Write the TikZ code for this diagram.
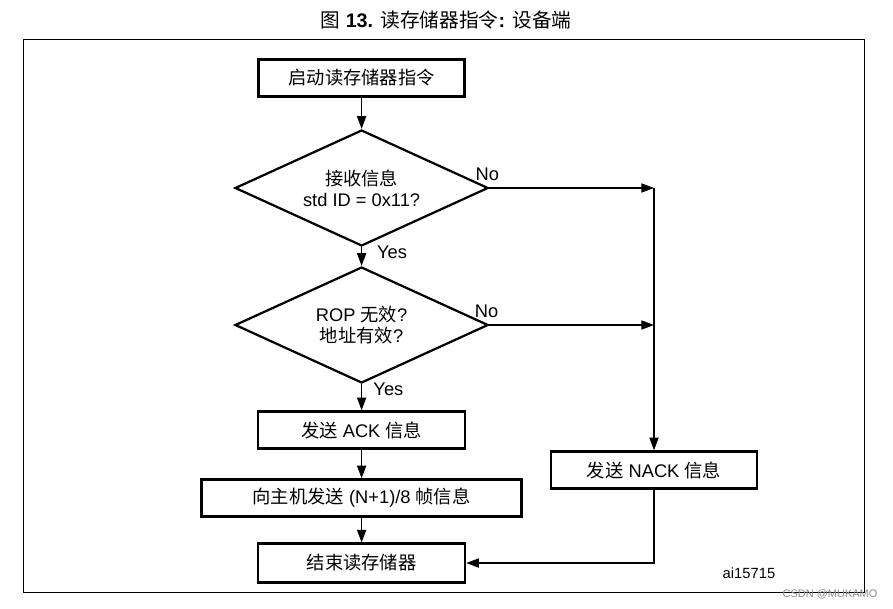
\documentclass[tikz,border=0pt]{standalone}
\usepackage{fontspec}
\setmainfont{Liberation Sans}
\newfontfamily\zhfont{Noto Sans CJK SC}
\newcommand{\zh}[1]{{\zhfont #1}}
\usepackage{tikz}
\usetikzlibrary{arrows.meta}
\usetikzlibrary{shapes.geometric}

\tikzset{
	stepbox/.style={draw, line width=1.6pt, minimum width=5.15cm, minimum height=0.93cm,
		inner sep=0pt, font=\fontsize{13}{15}\selectfont},
	query/.style={diamond, draw, line width=1.6pt, minimum width=6.33cm, minimum height=2.9cm,
		aspect=2, inner sep=0pt, align=center, font=\fontsize{13}{15}\selectfont},
	flow/.style={line width=0.9pt, -{Triangle[length=9pt, width=6.5pt]}},
	tag/.style={inner sep=0pt, font=\fontsize{13}{15}\selectfont},
}

\begin{document}
\begin{tikzpicture}
		\useasboundingbox (0,0) rectangle (22.325,-15.225);
		% Title and frame
		\node[font=\fontsize{14}{16}\selectfont] (title) at (11.15,-0.5)
			{\zh{图} \textbf{13.} \zh{读存储器指令}\textbf{:} \zh{设备端}};
		\draw[line width=0.9pt] (0.5875,-0.9875) rectangle (21.6125,-14.8125);
		% Steps
		\node[stepbox] (start) at (9.04,-1.95) {\zh{启动读存储器指令}};
		\node[query] (idcheck) at (9.04,-4.7) {\zh{接收信息}\\std ID = 0x11?};
		\node[query] (ropcheck) at (9.04,-8.125) {ROP \zh{无效}?\\\zh{地址有效}?};
		\node[stepbox, minimum width=5.175cm] (ack) at (9.04,-10.75) {\zh{发送} ACK \zh{信息}};
		\node[stepbox, minimum width=8cm] (frames) at (9.04,-12.45) {\zh{向主机发送} (N+1)/8 \zh{帧信息}};
		\node[stepbox, minimum width=5.175cm, minimum height=0.97cm] (stop) at (9.04,-14.075) {\zh{结束读存储器}};
		\node[stepbox] (nack) at (16.35,-11.75) {\zh{发送} NACK \zh{信息}};
		% Yes / No
		\node[tag, anchor=west] (yes1) at ([xshift=0.38cm, yshift=-0.13cm]idcheck.south) {Yes};
		\node[tag, anchor=west] (yes2) at ([xshift=0.29cm, yshift=-0.13cm]ropcheck.south) {Yes};
		\node[tag, anchor=south west] (no1) at ([xshift=-0.35cm, yshift=0.17cm]idcheck.east) {No};
		\node[tag, anchor=south west] (no2) at ([xshift=-0.37cm, yshift=0.17cm]ropcheck.east) {No};
		% Connectors
		\coordinate (j1) at (nack.north |- idcheck.east);
		\coordinate (j2) at (nack.north |- ropcheck.east);
		\draw[flow] (start) -- (idcheck);
		\draw[flow] (idcheck) -- (ropcheck);
		\draw[flow] (ropcheck) -- (ack);
		\draw[flow] (ack) -- (frames);
		\draw[flow] (frames) -- (stop);
		\draw[flow] (idcheck.east) -- (j1);
		\draw[flow] (ropcheck.east) -- (j2);
		\draw[flow] (j1) -- (nack.north);
		\draw[flow] (nack.south) |- (stop.east);
		% Figure code and mark
		\node[font=\fontsize{10.5}{12}\selectfont] (code) at (18.725,-14.325) {ai15715};
		\node[font=\fontsize{7.8}{9}\selectfont, text=black!45] (mark) at (20.75,-14.85) {CSDN @MUKAMO};
	\end{tikzpicture}
\end{document}
